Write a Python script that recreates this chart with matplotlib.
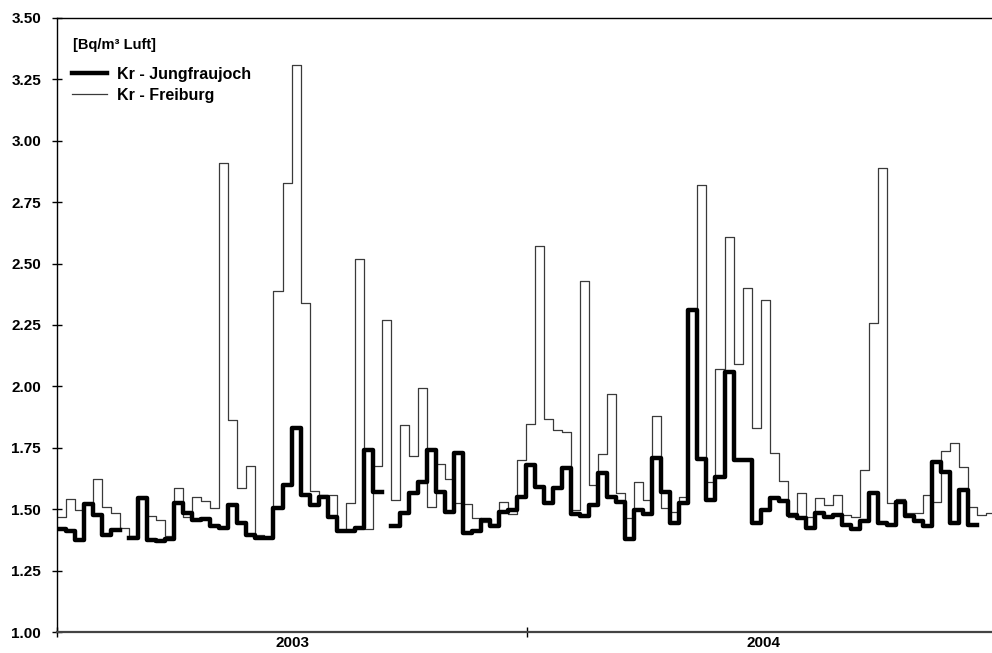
import numpy as np
import matplotlib.pyplot as plt
from matplotlib.lines import Line2D

# weekly Kr-85 activity [Bq/m3 air], week 0 starts 1 Jan 2003
jungfraujoch = [
    1.42, 1.41, 1.375, 1.52, 1.475, 1.395, 1.415, np.nan, 1.383, 1.545,
    1.375, 1.37, 1.38, 1.525, 1.485, 1.456, 1.46, 1.43, 1.422, 1.518,
    1.442, 1.395, 1.382, 1.382, 1.504, 1.60, 1.83, 1.558, 1.518, 1.55,
    1.47, 1.41, 1.41, 1.425, 1.74, 1.571, np.nan, 1.43, 1.485, 1.566,
    1.612, 1.741, 1.571, 1.49, 1.73, 1.402, 1.412, 1.456, 1.43, 1.49,
    1.497, 1.548, 1.68, 1.592, 1.524, 1.585, 1.666, 1.48, 1.472, 1.517,
    1.646, 1.551, 1.53, 1.377, 1.497, 1.48, 1.707, 1.571, 1.442, 1.524,
    2.31, 1.703, 1.537, 1.632, 2.06, 1.70, 1.70, 1.442, 1.497, 1.544,
    1.535, 1.476, 1.463, 1.422, 1.483, 1.47, 1.476, 1.436, 1.418, 1.453,
    1.567, 1.442, 1.436, 1.53, 1.472, 1.45, 1.432, 1.693, 1.653, 1.445,
    1.58, 1.436,
]

freiburg = [
    1.467, 1.54, 1.497, 1.52, 1.621, 1.51, 1.483, 1.425, 1.39, 1.54,
    1.472, 1.456, 1.39, 1.585, 1.47, 1.551, 1.535, 1.504, 2.91, 1.863,
    1.585, 1.676, 1.395, 1.385, 2.39, 2.83, 3.31, 2.34, 1.576, 1.558,
    1.558, 1.41, 1.527, 2.52, 1.42, 1.676, 2.27, 1.537, 1.843, 1.717,
    1.992, 1.51, 1.684, 1.621, 1.526, 1.522, 1.465, 1.449, 1.44, 1.53,
    1.48, 1.70, 1.848, 2.57, 1.866, 1.822, 1.816, 1.495, 2.43, 1.60,
    1.725, 1.968, 1.565, 1.463, 1.61, 1.537, 1.88, 1.504, 1.488, 1.551,
    2.31, 2.82, 1.612, 2.07, 2.61, 2.09, 2.40, 1.83, 2.35, 1.73,
    1.615, 1.47, 1.567, 1.47, 1.544, 1.517, 1.558, 1.476, 1.467, 1.66,
    2.26, 2.89, 1.524, 1.54, 1.483, 1.483, 1.558, 1.53, 1.738, 1.77,
    1.673, 1.51, 1.476, 1.486,
]

year_labels = ["2003", "2004"]
year_days = [0, 365, 731]

plt.rcParams["font.family"] = ["Liberation Sans", "DejaVu Sans"]
plt.rcParams["font.weight"] = "bold"


def steps(values):
    """Return x (day) and y arrays for a weekly step line."""
    vals = np.array(values, dtype=float)
    x = 7 * np.arange(len(vals) + 1)
    y = np.append(vals, vals[-1])
    return x, y


fig = plt.figure(figsize=(9.92, 6.53), dpi=100)
ax = fig.add_axes([57 / 992, 21 / 653, 942 / 992, 614 / 653])

x, y = steps(freiburg)
ax.step(x, y, where="post", color="#3a3a3a", linewidth=0.9)
x, y = steps(jungfraujoch)
ax.step(x, y, where="post", color="black", linewidth=3.2)

ax.set_xlim(year_days[0], year_days[-1])
ax.set_ylim(1.0, 3.5)

# axis styling
ax.spines["right"].set_visible(False)
for side in ["top", "left", "bottom"]:
    ax.spines[side].set_color("black")
    ax.spines[side].set_linewidth(1.0)
ax.spines["bottom"].set_linewidth(1.6)
ax.spines["bottom"].set_color("#444444")

ax.set_yticks(np.arange(1.0, 3.51, 0.25))
ax.set_yticklabels([f"{v:.2f}" for v in np.arange(1.0, 3.51, 0.25)],
                   fontsize=11, fontweight="bold")
ax.tick_params(axis="y", direction="inout", length=7, width=1, pad=8)

ax.set_xticks(year_days)
ax.set_xticklabels([])
ax.set_xticks([(year_days[i] + year_days[i + 1]) / 2 for i in range(2)], minor=True)
ax.set_xticklabels(year_labels, minor=True, fontsize=11, fontweight="bold")
ax.tick_params(axis="x", which="major", direction="inout", length=7, width=1)
ax.tick_params(axis="x", which="minor", length=0, pad=3)

# unit label and legend
ax.text(0.017, 0.956, "[Bq/m\u00b3 Luft]", transform=ax.transAxes,
        fontsize=10.5, fontweight="bold", va="center", ha="left")
handles = [
    Line2D([], [], color="black", linewidth=3.2),
    Line2D([], [], color="#3a3a3a", linewidth=0.9),
]
ax.legend(handles, ["Kr - Jungfraujoch", "Kr - Freiburg"],
          loc="upper left", bbox_to_anchor=(0.016, 0.921), frameon=False,
          prop={"size": 11.5, "weight": "bold"}, handlelength=2.2,
          handletextpad=0.62, labelspacing=0.4, borderpad=0, borderaxespad=0)

fig.savefig("out.png", dpi=100)
